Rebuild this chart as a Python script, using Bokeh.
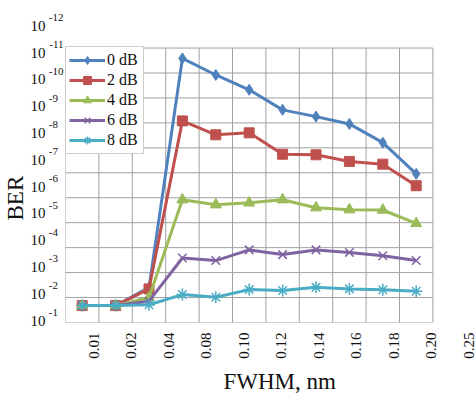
import math
from bokeh.plotting import figure
from bokeh.models import (Range1d, LinearAxis, LinearScale, FixedTicker, Legend, LegendItem, Title)
from bokeh.embed import file_html
from bokeh.resources import INLINE

# ---------------- data ----------------
fwhm_labels = ["0.01", "0.02", "0.04", "0.08", "0.10", "0.12", "0.14", "0.16", "0.18", "0.20", "0.25"]
x_idx = list(range(len(fwhm_labels)))

series_names = ["0 dB", "2 dB", "4 dB", "6 dB", "8 dB"]
ber_0db = [2.1e-2, 2.1e-2, 4.0e-3, 2.6e-12, 1.2e-11, 4.7e-11, 3.0e-10, 5.6e-10, 1.1e-9, 6.2e-9, 1.1e-7]
ber_2db = [2.1e-2, 2.1e-2, 4.5e-3, 8.3e-10, 3.0e-9, 2.5e-9, 1.8e-8, 1.9e-8, 3.5e-8, 4.5e-8, 3.3e-7]
ber_4db = [2.1e-2, 2.1e-2, 1.0e-2, 1.2e-6, 1.9e-6, 1.6e-6, 1.2e-6, 2.5e-6, 3.0e-6, 3.1e-6, 1.07e-5]
ber_6db = [2.1e-2, 2.1e-2, 1.4e-2, 2.6e-4, 3.3e-4, 1.23e-4, 1.9e-4, 1.23e-4, 1.55e-4, 2.1e-4, 3.3e-4]
ber_8db = [2.1e-2, 2.1e-2, 1.95e-2, 7.6e-3, 9.8e-3, 4.8e-3, 5.2e-3, 3.9e-3, 4.5e-3, 4.9e-3, 5.6e-3]
series = [ber_0db, ber_2db, ber_4db, ber_6db, ber_8db]

y_decades = list(range(1, 13))   # tick labels 10^-1 ... 10^-12

colors = ["#4F81BD", "#C0504D", "#9BBB59", "#8064A2", "#4BACC6"]
markers = ["diamond", "square", "triangle", "x", "asterisk"]
msizes = [11, 10, 11, 12, 12]

FONT = "Liberation Serif"
GRID = "#a0a0a0"
TXT = "#111111"

# ---------------- layout (pixels) ----------------
W, H = 476, 401
fl, fr, ft, fb = 65, W, 10, 322          # frame edges in figure pixels
col_w = 33.4                             # width of one category column
lab_dx0, lab_step = 93.0, 37.5           # x tick-label positions
lab_y0, lab_ystep = 320.0, 26.8          # y tick-label positions
sup_shift = 8.5                          # superscript raise
dec_h = 24.95                            # height of one decade

n = len(fwhm_labels)
x_start = -0.5
x_end = x_start + (fr - fl) / col_w
xl_start = (fl - lab_dx0) / lab_step
xl_end = (fr - lab_dx0) / lab_step
y_bot_exp = -1
y_top_exp = y_bot_exp - (fb - ft) / dec_h
yl_bot = 1 + (lab_y0 - fb) / lab_ystep
yl_top = 1 + (lab_y0 - ft) / lab_ystep
ye_bot = 1 + (lab_y0 - sup_shift - fb) / lab_ystep
ye_top = 1 + (lab_y0 - sup_shift - ft) / lab_ystep

p = figure(width=W, height=H, output_backend="svg", toolbar_location=None,
           x_axis_location=None, y_axis_location=None, y_axis_type="log",
           x_range=Range1d(x_start, x_end),
           y_range=Range1d(10 ** y_bot_exp, 10 ** y_top_exp),
           min_border_left=fl, min_border_right=W - fr,
           min_border_top=ft, min_border_bottom=H - fb)
p.outline_line_color = None
p.background_fill_color = "white"
p.border_fill_color = "white"
p.xgrid.visible = False
p.ygrid.visible = False

p.extra_x_ranges = {"lab": Range1d(xl_start, xl_end)}
p.extra_y_ranges = {"lab": Range1d(yl_bot, yl_top), "exp": Range1d(ye_bot, ye_top)}
p.extra_x_scales = {"lab": LinearScale()}
p.extra_y_scales = {"lab": LinearScale(), "exp": LinearScale()}

# ---------------- grid / plot-area border ----------------
decades = [10.0 ** -k for k in y_decades]
lo, hi = decades[0], decades[-1]
x_edges = [i - 0.5 for i in range(n + 1)]
p.segment(x0=x_edges, y0=[lo] * len(x_edges), x1=x_edges, y1=[hi] * len(x_edges),
          line_color=GRID, line_width=1)
p.segment(x0=[x_edges[0]] * len(decades), y0=decades, x1=[x_edges[-1]] * len(decades), y1=decades,
          line_color=GRID, line_width=1)

# ---------------- series ----------------
items = []
for name, ys, c, m, ms in zip(series_names, series, colors, markers, msizes):
    r1 = p.line(x_idx, ys, line_color=c, line_width=3)
    lw = 1.5 if m in ("x", "asterisk") else 1
    r2 = p.scatter(x_idx, ys, marker=m, size=ms, fill_color=c, line_color=c, line_width=lw)
    items.append(LegendItem(label=name, renderers=[r1, r2]))


# ---------------- axes ----------------
def plain_axis(ax, size, standoff):
    ax.axis_line_color = None
    ax.major_tick_line_color = None
    ax.minor_tick_line_color = None
    ax.major_tick_out = 0
    ax.major_tick_in = 0
    ax.major_label_standoff = standoff
    ax.major_label_text_font = FONT
    ax.major_label_text_font_size = size
    ax.major_label_text_color = TXT


# exponent part (superscript), closest to the plot
FIG = "\u2007"
eax = LinearAxis(y_range_name="exp", ticker=FixedTicker(ticks=y_decades))
eax.major_label_overrides = {k: ("-" + str(k)) + ("" if k >= 10 else FIG) for k in y_decades}
plain_axis(eax, "11px", 2)
p.add_layout(eax, "left")

# base "10"
bax = LinearAxis(y_range_name="lab", ticker=FixedTicker(ticks=y_decades))
bax.major_label_overrides = {k: "10" for k in y_decades}
plain_axis(bax, "15px", 0)
p.add_layout(bax, "left")

xax = LinearAxis(x_range_name="lab", ticker=FixedTicker(ticks=x_idx))
xax.major_label_overrides = {i: s for i, s in zip(x_idx, fwhm_labels)}
xax.major_label_orientation = math.pi / 2
plain_axis(xax, "15px", 10)
p.add_layout(xax, "below")

# ---------------- axis titles ----------------
p.add_layout(Title(text="BER", align="left", offset=102, standoff=0,
                   text_font=FONT, text_font_size="23px", text_font_style="normal",
                   text_color=TXT), "left")
p.add_layout(Title(text="FWHM, nm", align="left", offset=158, standoff=10,
                   text_font=FONT, text_font_size="23px", text_font_style="normal",
                   text_color=TXT), "below")

# ---------------- legend ----------------
legend = Legend(items=items, location=(0, 168), orientation="vertical",
                label_text_font=FONT, label_text_font_size="16px",
                label_text_color=TXT,
                glyph_width=36, glyph_height=20, label_height=20, label_width=33,
                label_standoff=2, spacing=0, padding=3, margin=0,
                border_line_color="#9a9a9a", border_line_width=1,
                background_fill_color="white", background_fill_alpha=1.0)
p.add_layout(legend, "center")

open("out.html", "w").write(file_html(p, INLINE))
